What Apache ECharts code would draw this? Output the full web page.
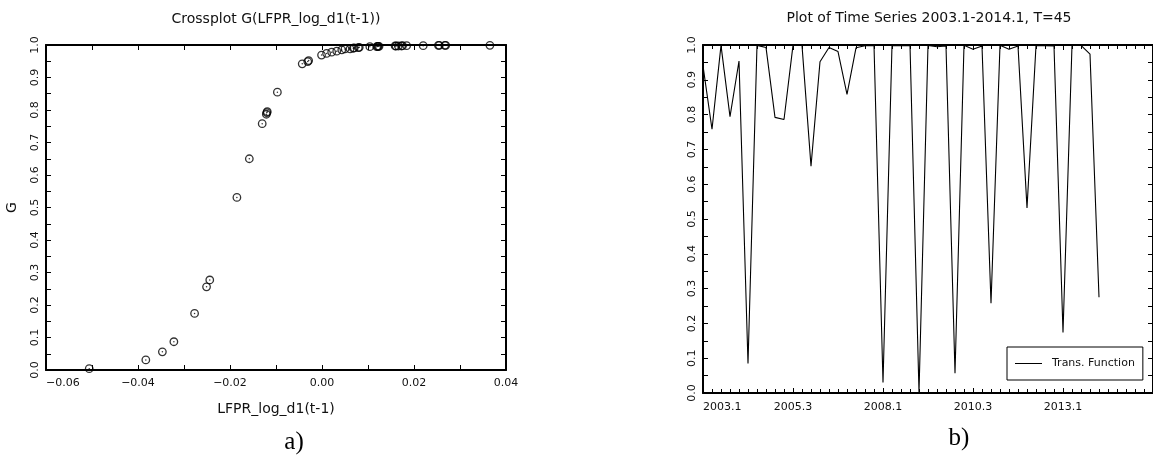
<!DOCTYPE html>
<html>
<head>
<meta charset="utf-8">
<script src="https://cdn.jsdelivr.net/npm/echarts@6/dist/echarts.min.js"></script>
<style>
  html, body { margin: 0; padding: 0; background: #fff; }
  #chart { width: 1153px; height: 459px; }
</style>
</head>
<body>
<div id="chart"></div>
<script>
// crossplot: lagged LFPR_log_d1 against transition function G
const lagX = [
  -0.0506, -0.0383, -0.0347, -0.0322, -0.0277, -0.0251, -0.0244, -0.0185, -0.0158,
  -0.0130, -0.0121, -0.0120, -0.0119, -0.0097, -0.0043, -0.0031, -0.0029,
  -0.0001, 0.0010, 0.0021, 0.0032, 0.0043, 0.0050, 0.0061, 0.0068, 0.0070, 0.0079,
  0.0081, 0.0104, 0.0119, 0.0121, 0.0122, 0.0124, 0.0159, 0.0161, 0.0166, 0.0173,
  0.0175, 0.0184, 0.0220, 0.0253, 0.0255, 0.0267, 0.0269, 0.0365
]
const gValues = [
  0.004, 0.031, 0.056, 0.087, 0.174, 0.256, 0.277, 0.531, 0.650,
  0.758, 0.787, 0.792, 0.795, 0.855, 0.942, 0.949, 0.952,
  0.969, 0.974, 0.978, 0.981, 0.985, 0.988, 0.988, 0.990, 0.991, 0.992,
  0.993, 0.995, 0.995, 0.996, 0.996, 0.996, 0.997, 0.997, 0.997, 0.997,
  0.998, 0.998, 0.998, 0.999, 0.999, 0.999, 0.999, 0.999
]

// time series of the transition function, quarterly from 2003.1
const startYear = 2003
const transFunction = [
  0.940, 0.758, 0.999, 0.794, 0.954, 0.085, 0.999, 0.993, 0.792, 0.786,
  0.999, 0.999, 0.652, 0.952, 0.993, 0.981, 0.858, 0.992, 0.998, 0.999,
  0.030, 0.999, 0.998, 0.999, 0.002, 0.999, 0.995, 0.997, 0.057, 0.999,
  0.988, 0.997, 0.258, 0.999, 0.988, 0.997, 0.532, 0.998, 0.998, 0.997,
  0.174, 0.999, 0.999, 0.974, 0.275
]

const font = 'DejaVu Sans'
const textColor = '#111'

const crossData = lagX.map((x, i) => [x, gValues[i]])
const seriesData = transFunction.map((v, i) => [i, v])

function quarterLabel(v) {
  return (startYear + Math.floor(v / 4)) + '.' + (v % 4 + 1)
}

// axis helper: frame side with inward ticks
function frameAxis(extra) {
  return Object.assign({
    type: 'value',
    splitLine: { show: false },
    axisLine: { show: true, onZero: false, lineStyle: { color: '#000', width: 2 } },
    axisTick: { show: true, inside: true, length: 5, lineStyle: { color: '#000', width: 1 } },
    minorTick: { show: true, length: 4, lineStyle: { color: '#000', width: 1 } },
    axisLabel: { show: false }
  }, extra)
}

const tickLabel = { show: true, fontFamily: font, fontSize: 11, color: textColor }

const chart = echarts.init(document.getElementById('chart'))

chart.setOption({
  animation: false,
  backgroundColor: '#fff',
  title: [
    {
      text: 'Crossplot G(LFPR_log_d1(t-1))',
      left: 276, top: 12, textAlign: 'center', padding: 0,
      textStyle: { fontFamily: font, fontSize: 14, fontWeight: 'normal', color: textColor }
    },
    {
      text: 'Plot of Time Series 2003.1-2014.1, T=45',
      left: 929, top: 11, textAlign: 'center', padding: 0,
      textStyle: { fontFamily: font, fontSize: 14, fontWeight: 'normal', color: textColor }
    },
    {
      text: 'a)',
      left: 294, top: 430, textAlign: 'center', padding: 0,
      textStyle: { fontFamily: 'Liberation Serif', fontSize: 25, fontWeight: 'normal', color: '#000' }
    },
    {
      text: 'b)',
      left: 959, top: 426, textAlign: 'center', padding: 0,
      textStyle: { fontFamily: 'Liberation Serif', fontSize: 25, fontWeight: 'normal', color: '#000' }
    }
  ],
  legend: {
    data: ['Trans. Function'],
    left: 1007, top: 347,
    padding: [11, 8, 11, 8],
    borderColor: '#000', borderWidth: 1,
    backgroundColor: '#fff',
    icon: 'rect',
    itemWidth: 27, itemHeight: 1,
    textStyle: { fontFamily: font, fontSize: 11, color: textColor, padding: [0, 0, 0, 5] }
  },
  grid: [
    { left: 46, top: 45, width: 460, height: 325 },
    { left: 703, top: 45, width: 452, height: 348 }
  ],
  xAxis: [
    frameAxis({
      gridIndex: 0, position: 'bottom', min: -0.06, max: 0.04, interval: 0.02,
      minorTick: { show: true, splitNumber: 2, length: 5, lineStyle: { color: '#000' } },
      axisLabel: Object.assign({}, tickLabel, {
        margin: 8, alignMinLabel: 'left',
        formatter: v => v.toFixed(2).replace('-', '\u2212')
      }),
      name: 'LFPR_log_d1(t-1)', nameLocation: 'middle', nameGap: 32,
      nameTextStyle: { fontFamily: font, fontSize: 14, color: textColor }
    }),
    frameAxis({
      gridIndex: 0, position: 'top', min: -0.06, max: 0.04, interval: 0.02,
      minorTick: { show: true, splitNumber: 2, length: 5, lineStyle: { color: '#000' } }
    }),
    frameAxis({
      gridIndex: 1, position: 'bottom', min: 0, max: 50, interval: 10,
      minorTick: { show: true, splitNumber: 10, length: 4, lineStyle: { color: '#000' } },
      axisLabel: Object.assign({}, tickLabel, {
        margin: 9, alignMinLabel: 'left', showMaxLabel: false,
        formatter: quarterLabel
      })
    }),
    frameAxis({
      gridIndex: 1, position: 'top', min: 0, max: 50, interval: 10,
      minorTick: { show: true, splitNumber: 10, length: 4, lineStyle: { color: '#000' } }
    })
  ],
  yAxis: [
    frameAxis({
      gridIndex: 0, position: 'left', min: 0, max: 1, interval: 0.1,
      minorTick: { show: true, splitNumber: 2, length: 5, lineStyle: { color: '#000' } },
      axisLabel: Object.assign({}, tickLabel, {
        rotate: 90, margin: 5, formatter: v => v.toFixed(1)
      }),
      name: 'G', nameLocation: 'middle', nameGap: 27, nameRotate: 90,
      nameTextStyle: { fontFamily: font, fontSize: 14, color: textColor }
    }),
    frameAxis({
      gridIndex: 0, position: 'right', min: 0, max: 1, interval: 0.1,
      minorTick: { show: true, splitNumber: 2, length: 5, lineStyle: { color: '#000' } }
    }),
    frameAxis({
      gridIndex: 1, position: 'left', min: 0, max: 1, interval: 0.1,
      minorTick: { show: true, splitNumber: 2, length: 5, lineStyle: { color: '#000' } },
      axisLabel: Object.assign({}, tickLabel, {
        rotate: 90, margin: 5, formatter: v => v.toFixed(1)
      })
    }),
    frameAxis({
      gridIndex: 1, position: 'right', min: 0, max: 1, interval: 0.1,
      minorTick: { show: true, splitNumber: 2, length: 5, lineStyle: { color: '#000' } }
    })
  ],
  series: [
    {
      type: 'scatter',
      xAxisIndex: 0, yAxisIndex: 0,
      data: crossData,
      symbol: 'circle',
      symbolSize: 7.5,
      itemStyle: { color: 'rgba(0,0,0,0)', borderColor: '#000', borderWidth: 1.3 }
    },
    {
      // centre dot of each marker
      type: 'scatter',
      xAxisIndex: 0, yAxisIndex: 0,
      data: crossData,
      symbol: 'circle',
      symbolSize: 1.5,
      itemStyle: { color: '#000' }
    },
    {
      name: 'Trans. Function',
      type: 'line',
      xAxisIndex: 2, yAxisIndex: 2,
      data: seriesData,
      symbol: 'none',
      lineStyle: { color: '#000', width: 1.1 },
      itemStyle: { color: '#000' }
    }
  ]
})
</script>
</body>
</html>
